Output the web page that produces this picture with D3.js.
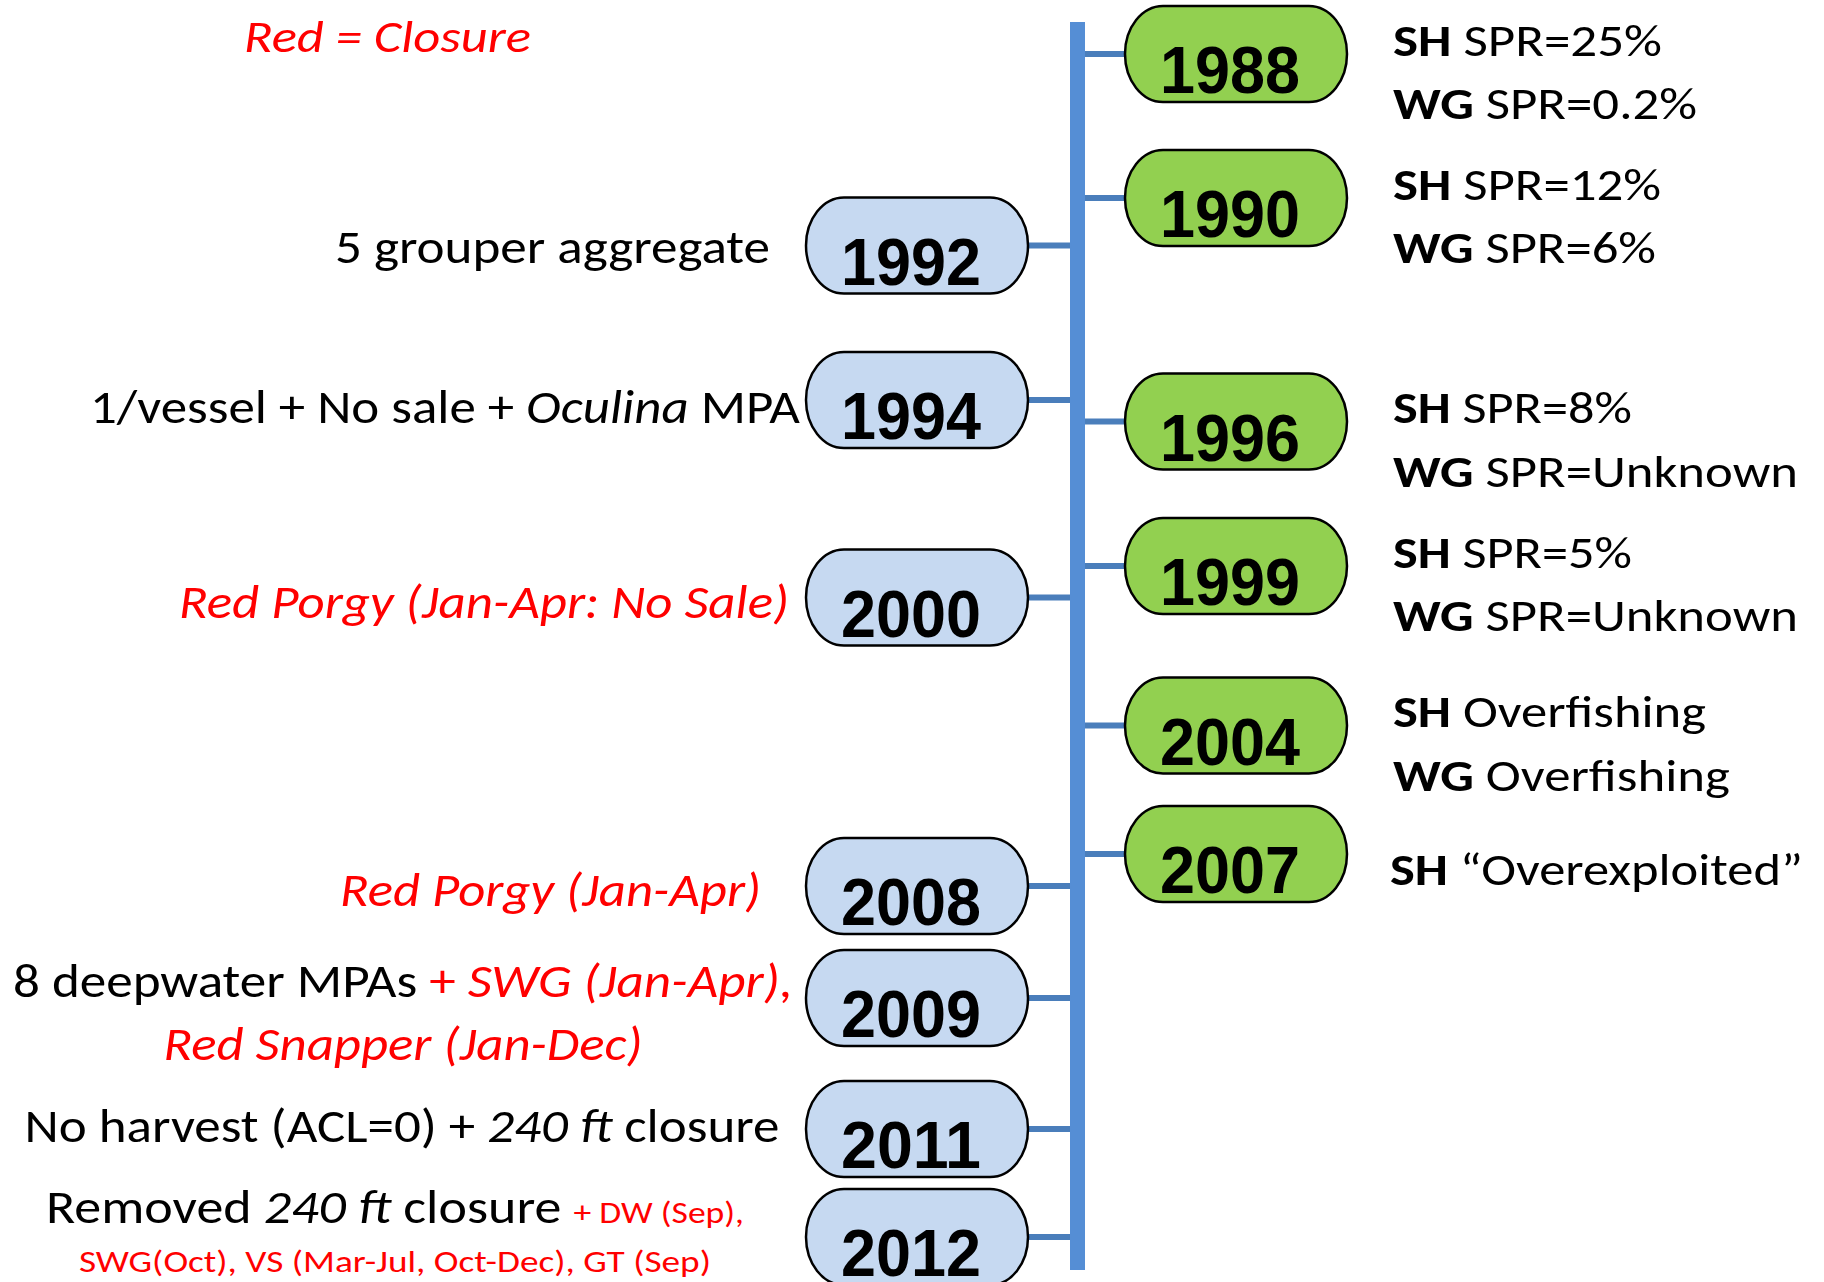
<!DOCTYPE html>
<html>
  <head>
    <title>Snowy / Warsaw Grouper Timeline</title>
    <meta charset="UTF-8">
    <style>
      body { margin: 0; background: #fff; }
      svg text { font-family: Carlito, Lato, "Open Sans", sans-serif; }
      svg text.year { font-family: "Liberation Sans", Arial, sans-serif; font-weight: bold; font-size: 66px; }
    </style>
  </head>
  <body>
    <svg id="chart"></svg>

    <script src="https://d3js.org/d3.v7.min.js" charset="utf-8"></script>
    <script>

/* DATA */

// stock assessments (green, right side)
const stockYears = [1988, 1990, 1996, 1999, 2004, 2007];
const shStatus = ["SPR=25%", "SPR=12%", "SPR=8%", "SPR=5%", "Overfishing", "\u201COverexploited\u201D"];
const wgStatus = ["SPR=0.2%", "SPR=6%", "SPR=Unknown", "SPR=Unknown", "Overfishing", null];

// regulations (blue, left side)
// markup: _italic_  *bold*  [closure in red]  {small closure note in red}
const regYears = [1992, 1994, 2000, 2008, 2009, 2011, 2012];
const regNotes = [
  ["5 grouper aggregate"],
  ["1/vessel + No sale + _Oculina_ MPA"],
  ["[_Red Porgy (Jan-Apr: No Sale)_]"],
  ["[_Red Porgy (Jan-Apr)_]"],
  ["8 deepwater MPAs [+ _SWG (Jan-Apr),_]", "[_Red Snapper (Jan-Dec)_]"],
  ["No harvest (ACL=0) + _240 ft_ closure"],
  ["Removed _240 ft_ closure {+ DW (Sep),}", "{SWG(Oct), VS (Mar-Jul, Oct-Dec), GT (Sep)}"]
];

const legendText = "[_Red = Closure_]";

/* LAYOUT */

const config = {
  width: 1824,
  height: 1282,
  red: "#FF0000",
  axisColor: "#558ED5",
  linkColor: "#4A7EBB",
  stockFill: "#92D050",
  regFill: "#C6D9F1",
  pill: { w: 222, h: 96, rx: 38, ry: 48 },
  axis: { x: 1077.5, w: 15, top: 22, bottom: 1270 },
  leftPillX: 806,
  rightPillX: 1125,
  rightTextX: 1393,
  leftSize: 47,
  rightSize: 45,
  smallSize: 31
};

// vertical position of each event along the timeline (hand laid out, not to scale)
const allYears = d3.merge([stockYears, regYears]).sort(d3.ascending);
const yStops = [54, 198, 245.5, 400, 421.5, 566, 597.5, 725.5, 854, 886, 998, 1129, 1237];
const y = d3.scaleLinear().domain(allYears).range(yStops);

// where each regulation note sits, relative to its pill centre
const regLayout = [
  { anchor: "end",    x: 770, dy: [17],      len: [435] },
  { anchor: "end",    x: 800, dy: [23],      len: [710] },
  { anchor: "end",    x: 789, dy: [20],      len: [610] },
  { anchor: "end",    x: 761, dy: [20],      len: [421] },
  { anchor: "middle", x: 403, dy: [-1, 62],  len: [780, 479] },
  { anchor: "middle", x: 402, dy: [13],      len: [755] },
  { anchor: "middle", x: 395, dy: [-14, 35], len: [698, 632] }
];
const stockLen = [[269, 304], [268, 263], [239, 405], [239, 405], [313, 337], [413]];

/* HELPERS */

// split a marked-up string into styled runs
function parseRuns(str) {
  var runs = [], cur = null;
  var st = { italic: false, bold: false, red: false, small: false };
  for (var i = 0; i < str.length; i++) {
    var c = str[i];
    if (c === "_") { st.italic = !st.italic; continue; }
    if (c === "*") { st.bold = !st.bold; continue; }
    if (c === "[") { st.red = true; continue; }
    if (c === "]") { st.red = false; continue; }
    if (c === "{") { st.red = true; st.small = true; continue; }
    if (c === "}") { st.red = false; st.small = false; continue; }
    var key = [st.italic, st.bold, st.red, st.small].join();
    if (!cur || cur.key !== key) {
      cur = Object.assign({ key: key, text: "" }, st);
      runs.push(cur);
    }
    cur.text += c;
  }
  return runs;
}

function richText(g, str, x, yPos, anchor, size, len) {
  var t = g.append("text")
    .attr("x", x)
    .attr("y", yPos)
    .attr("text-anchor", anchor)
    .style("font-size", size + "px")
    .attr("xml:space", "preserve")
    .style("white-space", "pre");
  parseRuns(str).forEach(function(r) {
    t.append("tspan")
      .text(r.text)
      .style("font-style", r.italic ? "italic" : "normal")
      .style("font-weight", r.bold ? "bold" : "normal")
      .style("fill", r.red ? config.red : "#000")
      .style("font-size", r.small ? config.smallSize + "px" : null);
  });
  if (len) t.attr("textLength", len).attr("lengthAdjust", "spacingAndGlyphs");
  return t;
}

/* DRAW */

const svg = d3.select("#chart")
  .attr("width", config.width)
  .attr("height", config.height);

// connectors first so the pills sit on top of them
const links = svg.append("g").attr("class", "links");

links.selectAll("line.reg")
  .data(regYears)
  .enter().append("line")
    .attr("x1", config.leftPillX + config.pill.w - 2)
    .attr("x2", config.axis.x)
    .attr("y1", (d) => y(d))
    .attr("y2", (d) => y(d))
    .style("stroke", config.linkColor)
    .style("stroke-width", 6);

links.selectAll("line.stock")
  .data(stockYears)
  .enter().append("line")
    .attr("x1", config.axis.x)
    .attr("x2", config.rightPillX + 2)
    .attr("y1", (d) => y(d))
    .attr("y2", (d) => y(d))
    .style("stroke", config.linkColor)
    .style("stroke-width", 6);

// the timeline itself
svg.append("rect")
  .attr("x", config.axis.x - config.axis.w / 2)
  .attr("y", config.axis.top)
  .attr("width", config.axis.w)
  .attr("height", config.axis.bottom - config.axis.top)
  .style("fill", config.axisColor);

function pills(years, x0, fill, cls) {
  const g = svg.append("g").attr("class", cls);
  const p = g.selectAll("g")
    .data(years)
    .enter().append("g")
      .attr("transform", (d) => "translate(" + x0 + "," + (y(d) - config.pill.h / 2) + ")");
  p.append("rect")
    .attr("width", config.pill.w)
    .attr("height", config.pill.h)
    .attr("rx", config.pill.rx)
    .attr("ry", config.pill.ry)
    .style("fill", fill)
    .style("stroke", "#000")
    .style("stroke-width", 2.5);
  p.append("text")
    .attr("class", "year")
    .attr("x", config.pill.w / 2 - 6)
    .attr("y", 87)
    .attr("text-anchor", "middle")
    .attr("textLength", 140)
    .attr("lengthAdjust", "spacingAndGlyphs")
    .text((d) => d);
}

pills(regYears, config.leftPillX, config.regFill, "reg");
pills(stockYears, config.rightPillX, config.stockFill, "stock");

// regulation notes
const notes = svg.append("g").attr("class", "notes");
regYears.forEach(function(yr, i) {
  var L = regLayout[i];
  regNotes[i].forEach(function(line, j) {
    richText(notes, line, L.x, y(yr) + L.dy[j], L.anchor, config.leftSize, L.len[j]);
  });
});

// stock status notes
stockYears.forEach(function(yr, i) {
  var lines = ["*SH* " + shStatus[i]];
  if (wgStatus[i]) lines.push("*WG* " + wgStatus[i]);
  var offs = lines.length > 1 ? [1.5, 65] : [31];
  var x = lines.length > 1 ? config.rightTextX : config.rightTextX - 3;
  lines.forEach(function(line, j) {
    richText(notes, line, x, y(yr) + offs[j], "start", config.rightSize, stockLen[i][j]);
  });
});

// legend
richText(svg, legendText, 244, 52, "start", 45, 287);

    </script>
  </body>
</html>
